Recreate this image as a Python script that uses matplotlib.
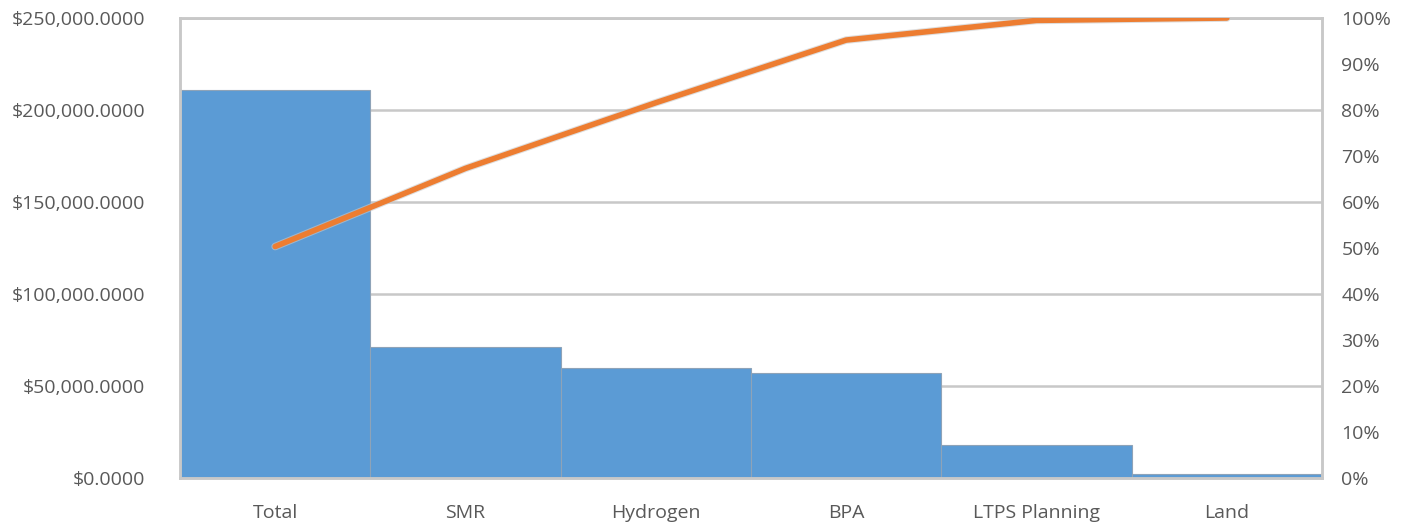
import matplotlib.pyplot as plt
import matplotlib.patheffects as pe
from matplotlib.ticker import FuncFormatter, MultipleLocator
import numpy as np

categories = ["Total", "SMR", "Hydrogen", "BPA", "LTPS Planning", "Land"]
costs = [210900, 71200, 59800, 57100, 17900, 2200]

cum_pct = np.cumsum(costs) / np.sum(costs) * 100

plt.rcParams['font.family'] = ['Open Sans', 'DejaVu Sans']
txt = '#595959'
grid_c = '#C8C8C8'

fig = plt.figure(figsize=(14.02, 5.24), dpi=100)
ax = fig.add_axes([180 / 1402, 1 - 478 / 524, (1322 - 180) / 1402, (478 - 18) / 524])

x = np.arange(len(categories))
ax.bar(x, costs, width=1.0, color='#5B9BD5', edgecolor='#8EA3B8', linewidth=0.8, zorder=2)
ax.set_xlim(-0.5, len(categories) - 0.5)
ax.set_ylim(0, 250000)
ax.yaxis.set_major_locator(MultipleLocator(50000))
ax.yaxis.set_major_formatter(FuncFormatter(lambda v, p: f"${v:,.4f}"))
ax.grid(axis='y', color=grid_c, linewidth=1.8, zorder=0)
ax.set_axisbelow(True)
ax.set_xticks(x)
ax.set_xticklabels(categories)

ax2 = ax.twinx()
ax2.plot(x, cum_pct, color='#ED7D31', linewidth=4, solid_capstyle='round', zorder=3,
         path_effects=[pe.Stroke(linewidth=5.5, foreground='#C9C9C9', alpha=0.6), pe.Normal()])
ax2.set_ylim(0, 100)
ax2.yaxis.set_major_locator(MultipleLocator(10))
ax2.yaxis.set_major_formatter(FuncFormatter(lambda v, p: f"{v:.0f}%"))

for a in (ax, ax2):
    for s in a.spines.values():
        s.set_color(grid_c)
        s.set_linewidth(1.8)
    a.tick_params(length=0, labelsize=14, colors=txt)
ax.tick_params(axis='y', pad=25)
ax.tick_params(axis='x', pad=19)
ax2.tick_params(axis='y', pad=14)

plt.savefig('out.png', dpi=100)
plt.close()
